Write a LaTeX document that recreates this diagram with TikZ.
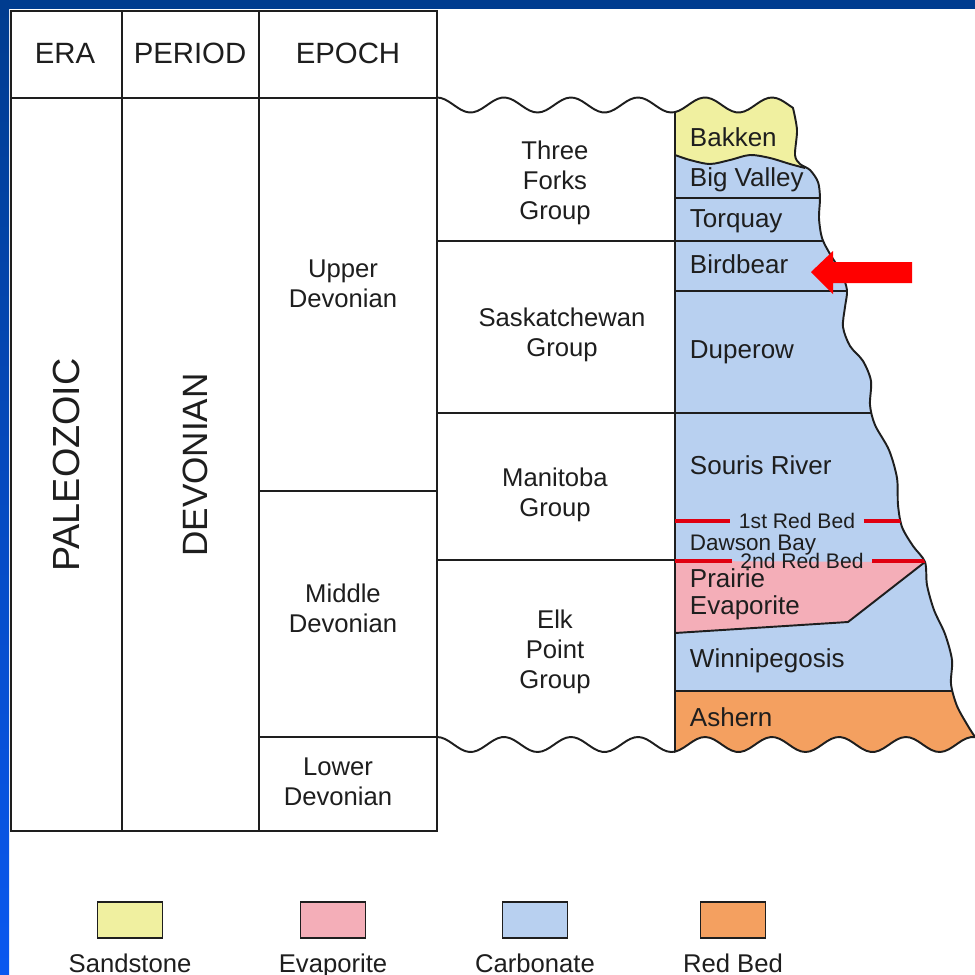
\documentclass[tikz,border=0pt]{standalone}
\usepackage{fontspec}
\setmainfont{Liberation Sans}
\usepackage{tikz}
\usetikzlibrary{calc,positioning}
\definecolor{ink}{HTML}{1E1E1E}
\definecolor{sandst}{HTML}{F0F0A0}
\definecolor{evapo}{HTML}{F4AEB8}
\definecolor{carbo}{HTML}{B8D0F0}
\definecolor{redbd}{HTML}{F4A060}
\definecolor{bedred}{HTML}{E00010}
\definecolor{frameblue}{HTML}{003C8F}
\definecolor{brightblue}{HTML}{0A58F0}
% outline of the formation column (wavy top, eroded right side, wavy base)
\newcommand{\formoutline}{(675,112)
  -- plot[domain=675:793,samples=30] (\x,{105-7.5*cos((\x-437)/67*360)})
  -- plot[smooth] coordinates {(793,108) (797,130) (795,155) (800,164) (810,170) (818,182)
     (820,198) (819,218) (822,238) (830,254) (841,272) (847,290) (845,307) (843,327)
     (850,346) (863,361) (871,381) (870,405) (875,425) (889,450) (897,478) (898,505)
     (902,527) (913,546) (925,562) (927,585) (934,610) (945,634) (952,660) (951,684)
     (957,706) (968,726) (975,737)}
  -- plot[domain=975:675,samples=70] (\x,{744.5-7.5*cos((\x-437)/67*360)}) -- cycle}

\begin{document}
\begin{tikzpicture}[x=0.02cm,y=-0.02cm,line width=1.1pt,color=ink,
  hdr/.style={font=\fontsize{16.7}{19}\selectfont},
  grp/.style={font=\fontsize{14.6}{17}\selectfont, align=center},
  fmn/.style={font=\fontsize{14.8}{16}\selectfont, anchor=west, align=left, inner sep=0pt},
  bedlbl/.style={font=\fontsize{12}{13}\selectfont, inner xsep=4.5pt, inner ysep=0pt},
  redline/.style={bedred, line width=2.3pt},
  legbox/.style={draw=ink, line width=0.9pt, minimum width=1.3cm, minimum height=0.72cm, inner sep=0pt},
  leglbl/.style={font=\fontsize{14.6}{17}\selectfont, anchor=base}]
\useasboundingbox (0,0) rectangle (975,975);
\fill[white] (0,0) rectangle (975,975);
\shade[top color=frameblue, bottom color=brightblue] (0,0) rectangle (9,975);
\fill[frameblue] (0,0) rectangle (975,9);

% formation column
\fill[carbo] \formoutline;
\begin{scope}
\clip \formoutline;
\fill[sandst] (660,90) -- (830,90) -- (830,170) -- (805,168)
  -- plot[smooth] coordinates {(805,168) (790,164) (770,158) (750,155) (730,160) (710,164) (690,160) (675,155)}
  -- (660,155) -- cycle;
\draw plot[smooth] coordinates {(805,168) (790,164) (770,158) (750,155) (730,160) (710,164) (690,160) (675,155)};
\fill[redbd] (660,691) rectangle (990,770);
\fill[evapo] (675,561) -- (925,562) -- (848,622) -- (675,633) -- cycle;
\draw (925,562) -- (848,622) -- (675,633);
\foreach \y in {198,241,291,413,691}
  \draw (660,\y) -- (990,\y);
\end{scope}
\draw \formoutline;

% time table
\draw (11,11) rectangle (437,831);
\draw (11,98) -- (437,98);
\draw (122,11) -- (122,831);
\draw (259,11) -- (259,831);
\draw (259,491) -- (437,491);
\draw (259,737) -- (437,737);

% group column
\draw plot[domain=437:675,samples=60] (\x,{105-7.5*cos((\x-437)/67*360)});
\draw plot[domain=437:675,samples=60] (\x,{744.5-7.5*cos((\x-437)/67*360)});
\foreach \y in {241,413,560}
  \draw (437,\y) -- (675,\y);

% headings
\node[hdr] (era) at (65,53) {ERA};
\node[hdr] (period) at (190,53) {PERIOD};
\node[hdr] (epoch) at (348,53) {EPOCH};
\node[font=\fontsize{21.5}{24}\selectfont, rotate=90] (paleozoic) at (66,465) {PALEOZOIC};
\node[font=\fontsize{20}{24}\selectfont, rotate=90] (devonian) at (195,465) {DEVONIAN};
\node[grp] (upper) at (343,284) {Upper\\Devonian};
\node[grp] (middle) at (343,608) {Middle\\Devonian};
\node[grp] (lower) at (338,782) {Lower\\Devonian};
\node[grp] (threeforks) at (555,183) {Three\\Forks\\Group};
\node[grp] (sask) at (562,335) {Saskatchewan\\Group};
\node[grp] (manitoba) at (555,495) {Manitoba\\Group};
\node[grp] (elkpoint) at (555,652) {Elk\\Point\\Group};

% formations
\node[fmn] (bakken) at (689,137) {Bakken};
\node[fmn] (bigvalley) at (689,180) {Big Valley};
\node[fmn] (torquay) at (689,221) {Torquay};
\node[fmn] (birdbear) at (689,264) {Birdbear};
\node[fmn] (duperow) at (689,352) {Duperow};
\node[fmn] (souris) at (689,465) {Souris River};
\node[fmn, font=\fontsize{12.8}{15}\selectfont] (dawson) at (689,545) {Dawson Bay};
\node[fmn, font=\fontsize{14.8}{15.6}\selectfont] (prairie) at (689,594) {Prairie\\Evaporite};
\node[fmn] (winnipeg) at (689,661) {Winnipegosis};
\node[fmn] (ashern) at (689,717) {Ashern};

% red beds
\node[bedlbl] (bedone) at (797,521) {1st Red Bed};
\node[bedlbl] (bedtwo) at (802,561) {2nd Red Bed};
\draw[redline] (675,521) -- (bedone.west);
\draw[redline] (675,561) -- (bedtwo.west);
\begin{scope}
\clip \formoutline;
\draw[redline] (bedone.east) -- (990,521);
\draw[redline] (bedtwo.east) -- (990,561);
\end{scope}

% pointer to Birdbear
\fill[red] (811,272) -- (833,251) -- (833,262) -- (912,262) -- (912,283) -- (833,283) -- (833,294) -- cycle;

% legend
\foreach \x/\c/\t/\n in {130/sandst/Sandstone/sand, 333/evapo/Evaporite/evap, 535/carbo/Carbonate/carb, 733/redbd/Red Bed/red}{
  \node[legbox, fill=\c] (box\n) at (\x,920) {};
  \node[leglbl] (lbl\n) at (\x,972) {\t};
}
\end{tikzpicture}
\end{document}
